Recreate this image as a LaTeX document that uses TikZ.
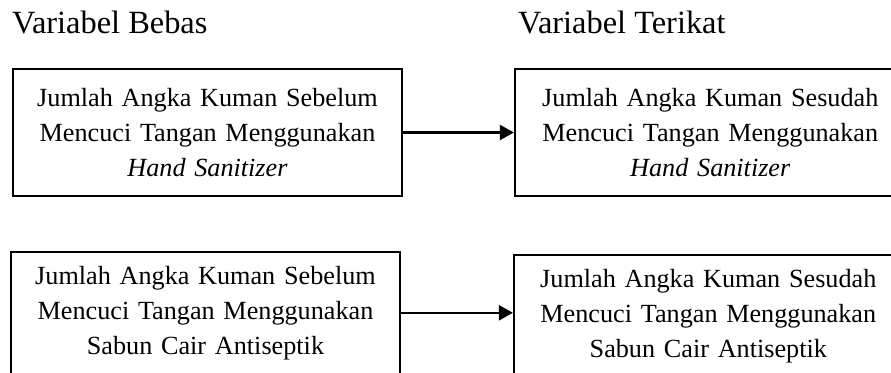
\documentclass[tikz,border=0pt]{standalone}
\usepackage{fontspec}
\setmainfont{Liberation Serif}
\usetikzlibrary{positioning, arrows.meta}
\tikzstyle{varbox} = [rectangle, minimum width=389pt, minimum height=127pt, text width=380pt, align=center, inner sep=0pt, draw=black, line width=1.8pt, font=\fontsize{26.2}{35}\selectfont]
\tikzstyle{title} = [anchor=base west, inner sep=0pt, font=\fontsize{32.4}{38}\selectfont]
\tikzstyle{arrow} = [line width=2.2pt, -{Triangle[length=14pt,width=15pt]}]

\begin{document}
\begin{tikzpicture}[x=1pt, y=-1pt, node distance=111pt]
\useasboundingbox (0,0) rectangle (891,372);
\node (bebas) [title] at (12,33) {Variabel Bebas};
\node (terikat) [title] at (518,33) {Variabel Terikat};
\node (HS1) [varbox] at (207.5,132.5) {Jumlah Angka Kuman Sebelum\\Mencuci Tangan Menggunakan\\\textit{Hand Sanitizer}};
\node (HS2) [varbox, right=of HS1, minimum width=391pt] {Jumlah Angka Kuman Sesudah\\Mencuci Tangan Menggunakan\\\textit{Hand Sanitizer}};
\node (SC1) [varbox, below=54pt of HS1, xshift=-2pt, minimum height=122pt] {Jumlah Angka Kuman Sebelum\\Mencuci Tangan Menggunakan\\Sabun Cair Antiseptik};
\node (SC2) [varbox, right=112pt of SC1, yshift=-3pt, minimum height=122pt] {Jumlah Angka Kuman Sesudah\\Mencuci Tangan Menggunakan\\Sabun Cair Antiseptik};
\draw [arrow] (HS1) -- (HS2);
\draw [arrow] (SC1.east) -- (SC1.east -| SC2.west);
\end{tikzpicture}
\end{document}
